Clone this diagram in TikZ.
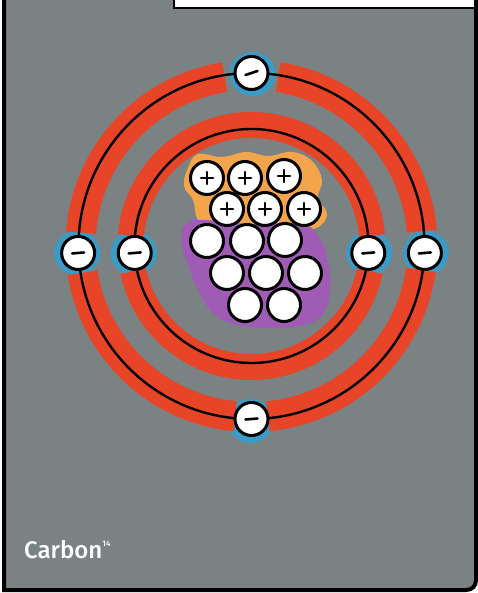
\documentclass[tikz,border=0pt]{standalone}
\usepackage{fontspec}
\newfontfamily\labelfont{Fira Sans Medium}
\usetikzlibrary{calc}
\definecolor{panelgray}{RGB}{122,130,131}
\definecolor{orbitred}{RGB}{232,68,40}
\definecolor{spinblue}{RGB}{58,156,198}
\definecolor{protonorange}{RGB}{244,164,74}
\definecolor{neutronpurple}{RGB}{160,92,181}
\begin{document}
\begin{tikzpicture}[x=1pt,y=-1pt,
  particle/.style={circle,draw=black,fill=white,line width=3pt,minimum size=33pt,inner sep=0pt},
  sign/.style={line width=2.6pt,line cap=round,draw=black},
  band/.style={line width=#1,draw=orbitred,line cap=butt},
  orbit/.style={line width=2.4pt,draw=black},
  halo/.style={fill=spinblue}]
\useasboundingbox (0,0) rectangle (478,593);
\fill[white] (0,0) rectangle (478,593);

% grey panel with its hand-drawn frame
\fill[panelgray] (4,0) -- (4,590) -- (466,590) .. controls (472,590) and (476,586) .. (476,580) -- (476,0) -- cycle;
\draw[line width=4pt] (4,0) -- (4,590) -- (466,590) .. controls (472,590) and (476,586) .. (476,580) -- (476,0);
\fill[white] (174,-2) rectangle (474,8);
\draw[line width=2pt] (174,-2) -- (174,8) -- (474,8);

\coordinate (c) at (251.5,246);

% nucleus backdrops
\fill[protonorange] plot[smooth cycle,tension=0.7] coordinates {
  (188,168) (198,154) (222,157) (246,152) (268,156) (292,152) (312,161)
  (322,180) (318,198) (327,214) (316,228) (288,230) (250,228) (214,230)
  (198,220) (193,200) (184,186)};
\fill[neutronpurple] plot[smooth cycle,tension=0.7] coordinates {
  (184,226) (200,220) (250,224) (300,224) (318,236) (328,262) (330,292)
  (322,315) (304,325) (268,328) (234,324) (214,314) (200,294) (189,268)
  (182,246)};

% electron positions
\coordinate (pTop) at ($(c)+(270:173)$);
\coordinate (pBot) at ($(c)+(90:173)$);
\coordinate (pLo) at ($(c)+(177.7:173.5)$);
\coordinate (pRo) at ($(c)+(2.3:173.5)$);
\coordinate (pLi) at ($(c)+(176.6:117)$);
\coordinate (pRi) at ($(c)+(3.4:117)$);

% blue motion halos behind the electrons
\foreach \p/\dx/\dy in {pTop/1/1, pBot/-1/2, pLo/-1/0, pRo/1/0, pLi/-1/0, pRi/1/0}
  \fill[halo] ($(\p)+(\dx,\dy)$) ellipse [x radius=23pt, y radius=22pt];

% red orbit bands, broken at each electron
\foreach \a/\b in {8/84.5, 95.5/171, 184.5/261, 279/355}
  \draw[band=30pt] ($(c)+(\a:171)$) arc[start angle=\a,end angle=\b,radius=171];
\foreach \a/\b in {12/168, 185/355}
  \draw[band=26pt] ($(c)+(\a:121)$) arc[start angle=\a,end angle=\b,radius=121];

% orbit lines
\draw[orbit] (c) circle[radius=173];
\draw[orbit] (c) circle[radius=117];

% electrons
\node[particle] (eTop) at (pTop) {};
\node[particle] (eBot) at (pBot) {};
\node[particle] (eLo) at (pLo) {};
\node[particle] (eRo) at (pRo) {};
\node[particle] (eLi) at (pLi) {};
\node[particle] (eRi) at (pRi) {};
\draw[sign] ($(eTop)+(-6,2)$) -- ($(eTop)+(6,-2)$);
\foreach \e in {eBot,eLo,eRo,eLi,eRi}
  \draw[sign] ($(\e)+(-6,0.5)$) -- ($(\e)+(6,-0.5)$);

% protons
\foreach \n/\x/\y in {p1/207/178, p2/245/178, p3/284/176, p4/227/209, p5/265/209, p6/304/209}{
  \node[particle] (\n) at (\x,\y) {};
  \draw[sign] ($(\n)+(-6,0)$) -- ($(\n)+(6,0)$) ($(\n)+(0,-6)$) -- ($(\n)+(0,6)$);
}
% neutrons
\foreach \n/\x/\y in {n1/207/241, n2/247/241, n3/285/240, n4/227/273, n5/266/273, n6/305/273, n7/245/305, n8/284/305}
  \node[particle] (\n) at (\x,\y) {};

% caption
\node[text=white,anchor=base west,inner sep=0pt,font=\labelfont\fontsize{24}{24}\selectfont] (caption) at (24,558)
  {Carbon\raisebox{12pt}{\fontsize{8}{8}\selectfont 14}};
\end{tikzpicture}
\end{document}
